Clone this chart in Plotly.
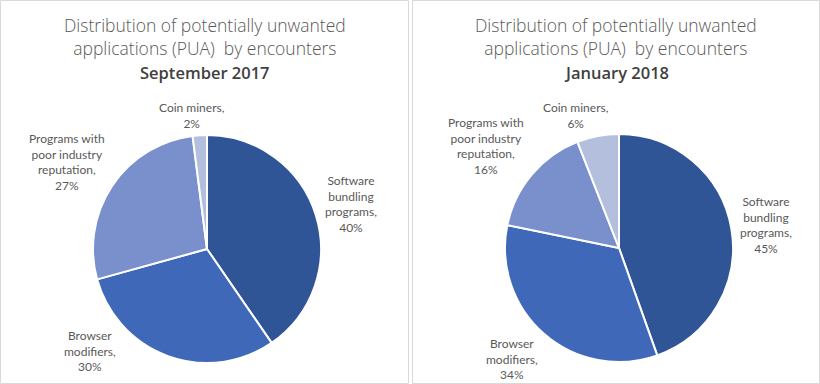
import plotly.graph_objects as go

W, H = 820, 384

categories = ["Software bundling programs", "Browser modifiers",
              "Programs with poor industry reputation", "Coin miners"]
label_text = ["Software<br>bundling<br>programs,", "Browser<br>modifiers,",
              "Programs with<br>poor industry<br>reputation,", "Coin miners,"]
sep2017 = [40, 30, 27, 2]
jan2018 = [45, 34, 16, 6]
subtitles = ["September 2017", "January 2018"]
title_main = "Distribution of potentially unwanted<br>applications (PUA)  by encounters"
colors = ["#2F5597", "#3F69B8", "#7990CD", "#B4BFDE"]

# layout: pie boxes in pixels (x0, x1, y0_top, y1_bottom)
pie_boxes = [(93, 321, 135, 363), (505, 733, 134, 362)]
title_x = [205, 616]
# label centre positions in pixels for each pie, per category
label_pos = [
    [(351, 204), (90, 351), (67, 162), (192, 115)],
    [(766, 225), (512, 359), (486, 146), (576, 116)],
]

FONT = "Segoe UI, Open Sans, sans-serif"
LABEL_FONT = "Segoe UI, Lato, sans-serif"

fig = go.Figure()
annotations = []
for k, vals in enumerate([sep2017, jan2018]):
    x0, x1, yt, yb = pie_boxes[k]
    fig.add_trace(go.Pie(
        labels=categories, values=vals, sort=False, direction="clockwise",
        rotation=0, textinfo="none", hoverinfo="label+percent",
        marker=dict(colors=colors, line=dict(color="white", width=2)),
        domain=dict(x=[x0 / W, x1 / W], y=[1 - yb / H, 1 - yt / H]),
        showlegend=False,
    ))
    for i, v in enumerate(vals):
        px, py = label_pos[k][i]
        annotations.append(dict(
            x=px / W, y=1 - py / H, xref="paper", yref="paper",
            text=f"{label_text[i]}<br>{v}%", showarrow=False,
            xanchor="center", yanchor="middle", align="center",
            font=dict(family=LABEL_FONT, size=12, color="#595959"),
        ))
    annotations.append(dict(
        x=title_x[k] / W, y=1 - 36 / H, xref="paper", yref="paper",
        text=title_main, showarrow=False, xanchor="center", yanchor="middle",
        align="center",
        font=dict(family=FONT, size=17.5, color="#595959", weight=300),
    ))
    annotations.append(dict(
        x=title_x[k] / W, y=1 - 73 / H, xref="paper", yref="paper",
        text=subtitles[k], showarrow=False, xanchor="center", yanchor="middle",
        font=dict(family=FONT, size=16.5, color="#404040", weight=600),
    ))

shapes = [
    dict(type="rect", xref="paper", yref="paper",
         x0=0.5 / W, x1=408.5 / W, y0=0.5 / H, y1=1 - 0.5 / H,
         line=dict(color="#D9D9D9", width=1)),
    dict(type="rect", xref="paper", yref="paper",
         x0=412.5 / W, x1=819.5 / W, y0=0.5 / H, y1=1 - 0.5 / H,
         line=dict(color="#D9D9D9", width=1)),
]

fig.update_layout(
    width=W, height=H, margin=dict(l=0, r=0, t=0, b=0),
    paper_bgcolor="white", plot_bgcolor="white",
    annotations=annotations, shapes=shapes,
)
fig.write_html(
    "out.html",
    config={"displayModeBar": False},
    post_script="document.body.style.margin='0';document.body.style.overflow='hidden';",
)
